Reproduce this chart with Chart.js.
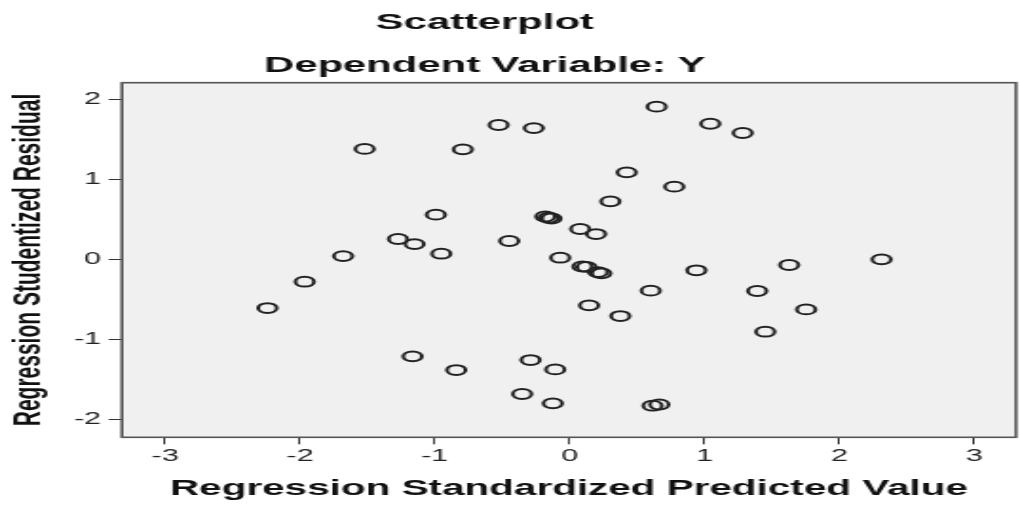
<!DOCTYPE html>
<html>
<head>
<meta charset="utf-8">
<script src="https://cdn.jsdelivr.net/npm/chart.js@4.4.1/dist/chart.umd.min.js"></script>
<style>
  html, body { margin: 0; padding: 0; background: #ffffff; overflow: hidden; }
  /* the chart is laid out narrow and widened, like the exported SPSS graphic */
  #wrap {
    position: absolute; left: 0; top: 0;
    width: 537px; height: 505px;
    transform: scaleX(1.8994); transform-origin: 0 0;
  }
</style>
</head>
<body>
<div id="wrap"><canvas id="c"></canvas></div>
<script>
const chartTitle = 'Scatterplot';
const chartSubtitle = 'Dependent Variable: Y';
const xAxisTitle = 'Regression Standardized Predicted Value';
const yAxisTitle = 'Regression Studentized Residual';

const xTickValues = [-3, -2, -1, 0, 1, 2, 3];
const yTickValues = [-2, -1, 0, 1, 2];

// standardized predicted value of each case
const predictedValues = [
  -1.52, -1.273, -1.15, -1.68, 0.645, -0.527, -0.266, -0.792, 0.423, 0.776,
  0.302, -0.992, -0.18, -0.155, -0.135, 0.078, 0.196, -0.952, -0.448, -0.07,
  1.043, 1.283, 2.313, -1.965, -2.241, -1.165, 0.095, 0.125, 0.21, 0.235,
  0.94, 0.601, 0.144, 0.376, -0.841, -0.29, -0.107, -0.352, -0.125, 0.615,
  0.665, 1.628, 1.391, 1.754, 1.451
];
// studentized residual of each case
const studentizedResiduals = [
  1.38, 0.254, 0.19, 0.04, 1.908, 1.679, 1.641, 1.375, 1.087, 0.908,
  0.725, 0.558, 0.535, 0.52, 0.51, 0.379, 0.316, 0.07, 0.229, 0.02,
  1.695, 1.579, 0.0, -0.28, -0.609, -1.213, -0.09, -0.095, -0.16, -0.175,
  -0.137, -0.392, -0.575, -0.709, -1.384, -1.259, -1.376, -1.684, -1.8, -1.83,
  -1.815, -0.071, -0.396, -0.626, -0.905
];

const FONT = "'Liberation Sans', Arial, sans-serif";

const points = predictedValues.map((x, i) => ({ x: x, y: studentizedResiduals[i] }));

// grey plot background and the frame around it
const plotFrame = {
  id: 'plotFrame',
  beforeDraw(chart) {
    const a = chart.chartArea, ctx = chart.ctx;
    ctx.save();
    ctx.fillStyle = '#f0f0f0';
    ctx.fillRect(a.left, a.top, a.right - a.left, a.bottom - a.top);
    ctx.restore();
  },
  beforeDatasetsDraw(chart) {
    const a = chart.chartArea, ctx = chart.ctx;
    ctx.save();
    ctx.strokeStyle = '#555555';
    ctx.lineWidth = 1.6;
    ctx.strokeRect(a.left, a.top, a.right - a.left, a.bottom - a.top);
    ctx.restore();
  }
};

// two-line heading above the plot
const heading = {
  id: 'heading',
  afterDraw(chart) {
    const ctx = chart.ctx;
    ctx.save();
    ctx.fillStyle = '#111111';
    ctx.textAlign = 'center';
    ctx.textBaseline = 'alphabetic';
    ctx.font = 'bold 22px ' + FONT;
    ctx.fillText(chartTitle, 255.2, 28.5);
    ctx.fillText(chartSubtitle, 255.2, 71.7);
    ctx.restore();
  }
};

new Chart(document.getElementById('c'), {
  type: 'scatter',
  data: {
    datasets: [{
      data: points,
      pointStyle: 'circle',
      pointRadius: 4.9,
      pointBorderWidth: 2,
      pointBorderColor: '#222222',
      pointBackgroundColor: 'rgba(0,0,0,0)'
    }]
  },
  options: {
    responsive: true,
    maintainAspectRatio: false,
    animation: false,
    devicePixelRatio: 1,
    events: [],
    layout: { autoPadding: false, padding: { top: 82.7, left: 0, right: 2.1, bottom: 0 } },
    plugins: {
      legend: { display: false },
      tooltip: { enabled: false },
      title: { display: false }
    },
    scales: {
      x: {
        type: 'linear',
        min: -3.32,
        max: 3.31,
        afterBuildTicks: (s) => { s.ticks = xTickValues.map(v => ({ value: v })); },
        afterFit: (s) => { s.height = 67.7; },
        border: { display: false },
        grid: { drawOnChartArea: false, drawTicks: true, tickLength: 7, tickColor: '#333333', tickWidth: 1 },
        ticks: { color: '#222222', padding: 3, font: { family: FONT, size: 16 }, maxRotation: 0 },
        title: {
          display: true, text: xAxisTitle, color: '#111111',
          font: { family: FONT, size: 21.3, weight: 'bold' },
          padding: { top: 0, bottom: 2.8 }
        }
      },
      y: {
        type: 'linear',
        min: -2.225,
        max: 2.208,
        afterBuildTicks: (s) => { s.ticks = yTickValues.map(v => ({ value: v })); },
        afterFit: (s) => { s.width = 64.2; },
        border: { display: false },
        grid: { drawOnChartArea: false, drawTicks: true, tickLength: 7, tickColor: '#333333', tickWidth: 1 },
        ticks: { color: '#222222', padding: 4, font: { family: FONT, size: 16 } },
        title: {
          display: true, text: yAxisTitle, color: '#111111',
          font: { family: FONT, size: 21, weight: 'bold' },
          padding: { top: 2.6, bottom: 0 }
        }
      }
    }
  },
  plugins: [plotFrame, heading]
});
</script>
</body>
</html>
